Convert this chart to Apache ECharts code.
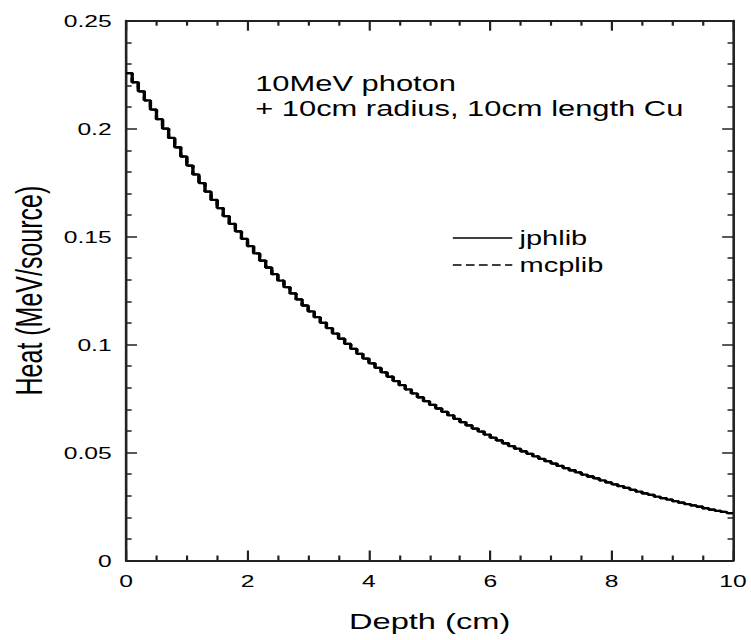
<!DOCTYPE html>
<html><head><meta charset="utf-8">
<script src="https://cdn.jsdelivr.net/npm/echarts@6/dist/echarts.min.js"></script>
<style>
html,body{margin:0;padding:0;overflow:hidden;background:#fff;width:751px;height:640px}
#chart{width:518px;height:640px;transform:scaleX(1.45);transform-origin:0 0}
</style></head><body><div id="chart"></div>
<script>
// ---- data ----
const seriesNames = ['jphlib', 'mcplib'];
const xTickValues = [0, 2, 4, 6, 8, 10];
const yTickValues = [0, 0.05, 0.1, 0.15, 0.2, 0.25];
const binWidth = 0.1;          // cm, histogram bin width
const jphlibHeat = [
  0.2257,0.2215,0.2173,0.2131,0.2088,0.2044,0.2000,0.1957,0.1914,0.1871,
  0.1829,0.1788,0.1748,0.1708,0.1670,0.1632,0.1595,0.1559,0.1524,0.1490,
  0.1456,0.1422,0.1389,0.1357,0.1326,0.1296,0.1266,0.1237,0.1209,0.1181,
  0.1154,0.1127,0.1101,0.1076,0.1051,0.1027,0.1003,0.0980,0.0957,0.0935,
  0.0913,0.0892,0.0871,0.0851,0.0831,0.0812,0.0793,0.0774,0.0756,0.0738,
  0.0721,0.0704,0.0688,0.0672,0.0656,0.0641,0.0626,0.0611,0.0597,0.0583,
  0.0569,0.0556,0.0543,0.0530,0.0518,0.0506,0.0494,0.0482,0.0471,0.0460,
  0.0449,0.0438,0.0428,0.0418,0.0408,0.0398,0.0389,0.0380,0.0371,0.0362,
  0.0353,0.0344,0.0336,0.0327,0.0319,0.0311,0.0304,0.0296,0.0289,0.0282,
  0.0275,0.0268,0.0261,0.0255,0.0249,0.0242,0.0236,0.0230,0.0225,0.0219
];
const mcplibHeat = [
  0.2257,0.2215,0.2173,0.2131,0.2088,0.2044,0.2000,0.1957,0.1914,0.1871,
  0.1829,0.1788,0.1748,0.1708,0.1670,0.1632,0.1595,0.1559,0.1524,0.1490,
  0.1456,0.1422,0.1389,0.1357,0.1326,0.1296,0.1266,0.1237,0.1209,0.1181,
  0.1154,0.1127,0.1101,0.1076,0.1051,0.1027,0.1003,0.0980,0.0957,0.0935,
  0.0913,0.0892,0.0871,0.0851,0.0831,0.0812,0.0793,0.0774,0.0756,0.0738,
  0.0721,0.0704,0.0688,0.0672,0.0656,0.0641,0.0626,0.0611,0.0597,0.0583,
  0.0569,0.0556,0.0543,0.0530,0.0518,0.0506,0.0494,0.0482,0.0471,0.0460,
  0.0449,0.0438,0.0428,0.0418,0.0408,0.0398,0.0389,0.0380,0.0371,0.0362,
  0.0353,0.0344,0.0336,0.0327,0.0319,0.0311,0.0304,0.0296,0.0289,0.0282,
  0.0275,0.0268,0.0261,0.0255,0.0249,0.0242,0.0236,0.0230,0.0225,0.0219
];
const annotationLines = ['10MeV photon', '+ 10cm radius, 10cm length Cu'];
const xAxisTitle = 'Depth (cm)';
const yAxisTitle = 'Heat (MeV/source)';

// histogram: left edge of each bin, plus closing edge
function toSteps(vals) {
  const pts = vals.map((v, i) => [+(i * binWidth).toFixed(2), v]);
  pts.push([+(vals.length * binWidth).toFixed(2), vals[vals.length - 1]]);
  return pts;
}

const FONT = '"Liberation Sans", Arial, Helvetica, sans-serif';
const AX = '#222';
const xMin = xTickValues[0], xMax = xTickValues[xTickValues.length - 1];
const xInt = xTickValues[1] - xTickValues[0];
const yMin = yTickValues[0], yMax = yTickValues[yTickValues.length - 1];
const yInt = yTickValues[1] - yTickValues[0];

function xAxisCfg(pos, show) {
  return {
    type: 'value', position: pos, min: xMin, max: xMax, interval: xInt,
    name: show ? xAxisTitle : '', nameLocation: 'middle', nameGap: 49,
    nameTextStyle: {fontFamily: FONT, fontSize: 22.5, color: '#000'},
    axisLine: {show: true, onZero: false, lineStyle: {color: AX, width: 1.8}},
    axisTick: {show: true, inside: true, length: 10, lineStyle: {color: AX, width: 1.5}},
    minorTick: {show: true, splitNumber: 4, length: 5, lineStyle: {color: AX, width: 1.5}},
    axisLabel: {show: show, margin: 12, fontFamily: FONT, fontSize: 17, color: '#000'},
    splitLine: {show: false}, minorSplitLine: {show: false}
  };
}
function yAxisCfg(pos, show) {
  return {
    type: 'value', position: pos, min: yMin, max: yMax, interval: yInt,
    name: show ? yAxisTitle : '', nameLocation: 'middle', nameGap: 49,
    nameTextStyle: {fontFamily: FONT, fontSize: 25, color: '#000'},
    axisLine: {show: true, onZero: false, lineStyle: {color: AX, width: 1.8}},
    axisTick: {show: true, inside: true, length: 7.5, lineStyle: {color: AX, width: 1.5}},
    minorTick: {show: true, splitNumber: 5, length: 3.8, lineStyle: {color: AX, width: 1.5}},
    axisLabel: {show: show, margin: 10, fontFamily: FONT, fontSize: 17, color: '#000'},
    splitLine: {show: false}, minorSplitLine: {show: false}
  };
}

const chart = echarts.init(document.getElementById('chart'), null, {renderer: 'svg'});
chart.setOption({
  animation: false,
  backgroundColor: '#fff',
  grid: {left: 82, right: 10, top: 20.7, bottom: 79.5, containLabel: false},
  xAxis: [xAxisCfg('bottom', true), xAxisCfg('top', false)],
  yAxis: [yAxisCfg('left', true), yAxisCfg('right', false)],
  legend: {
    orient: 'vertical', left: 306.5, top: 222,
    itemWidth: 41, itemHeight: 14, itemGap: 5,
    itemStyle: {opacity: 0},
    lineStyle: {width: 1.6, opacity: 1},
    textStyle: {fontFamily: FONT, fontSize: 20, color: '#000', lineHeight: 22},
    data: seriesNames
  },
  graphic: [{
    type: 'text', left: 176, top: 71,
    style: {text: annotationLines.join('\n'), fontFamily: FONT, fontSize: 21.3, lineHeight: 25, fill: '#000'}
  }],
  series: [
    {name: seriesNames[0], type: 'line', step: 'end', symbol: 'none', xAxisIndex: 0, yAxisIndex: 0,
     data: toSteps(jphlibHeat), lineStyle: {color: '#000', width: 2.3, type: 'solid'}, itemStyle: {color: '#000'}},
    {name: seriesNames[1], type: 'line', step: 'end', symbol: 'none', xAxisIndex: 0, yAxisIndex: 0,
     data: toSteps(mcplibHeat), lineStyle: {color: '#000', width: 2.3, type: [6, 3]}, itemStyle: {color: '#000'}}
  ]
});
</script></body></html>
